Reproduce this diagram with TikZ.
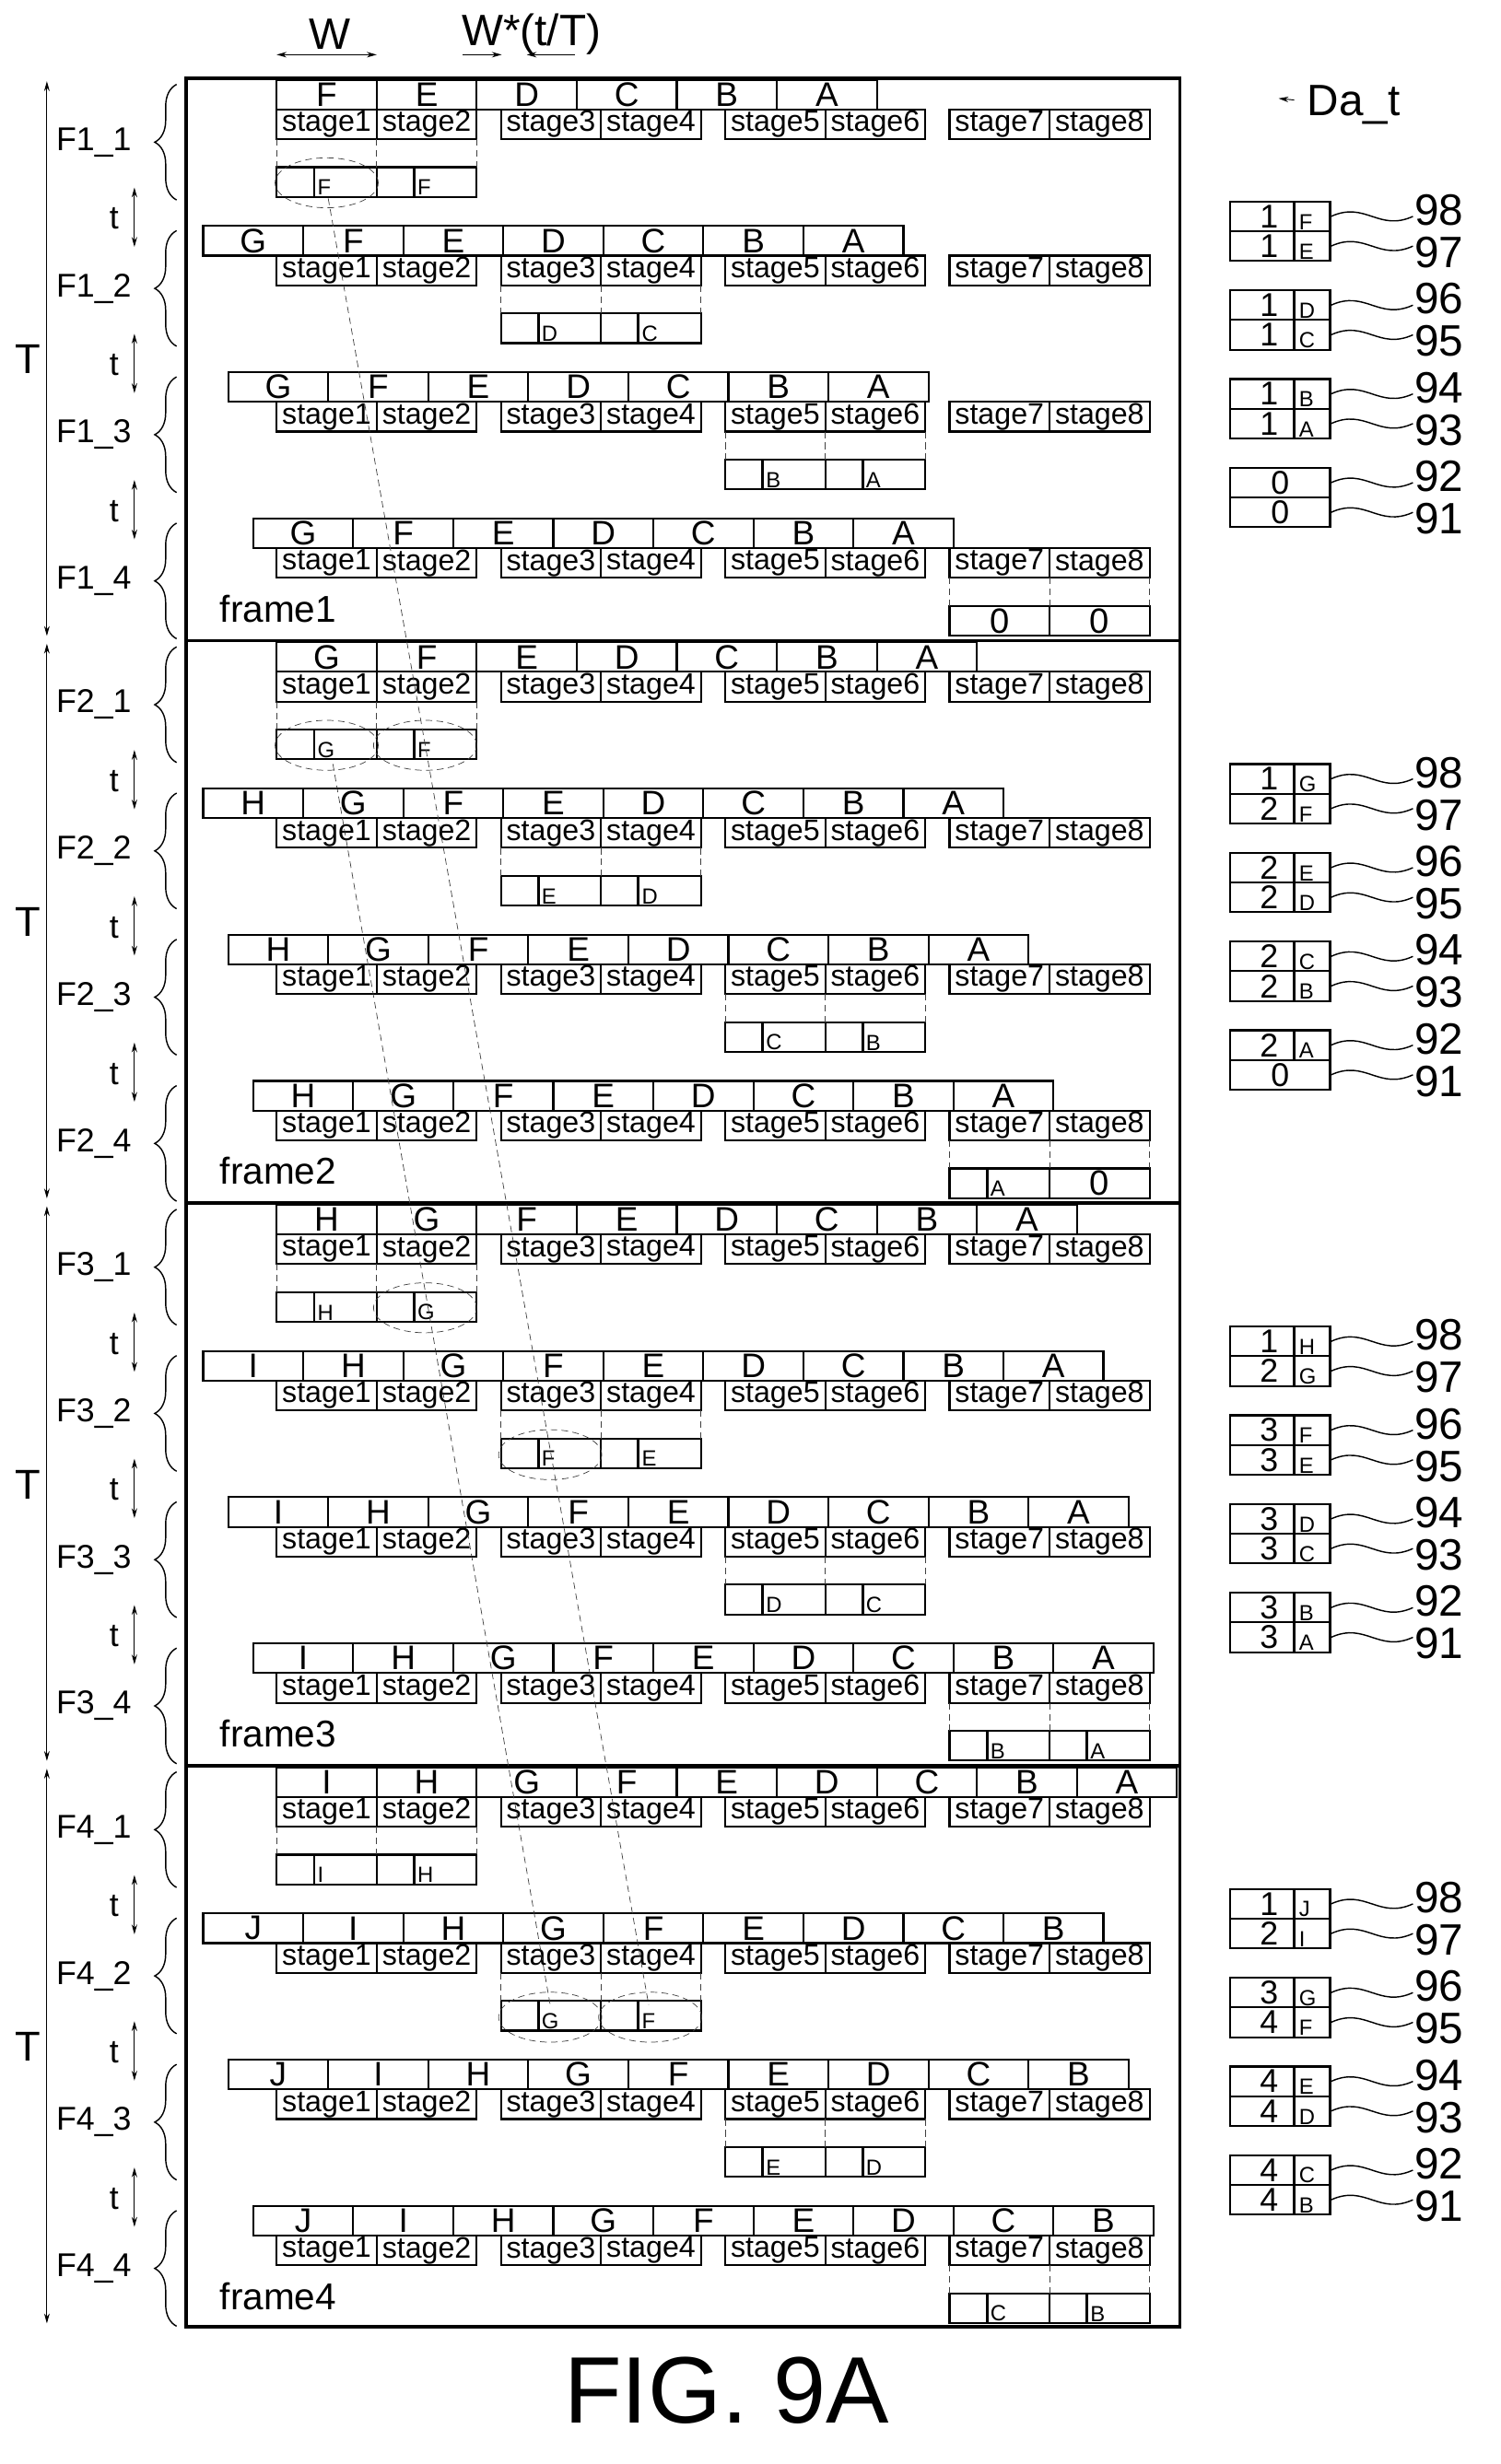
\documentclass[tikz,border=0pt]{standalone}
\usepackage{fontspec}
\setmainfont{Liberation Sans}
\usetikzlibrary{decorations.pathreplacing,arrows.meta}

\tikzset{
  stagebox/.style={draw, line width=1.8pt, minimum width=3.2cm, minimum height=0.95cm,
    inner sep=0pt, font=\fontsize{27}{27}\selectfont},
  lettercell/.style={draw, line width=1.8pt, minimum width=3.2cm, minimum height=0.95cm,
    inner sep=0pt, font=\fontsize{31}{31}\selectfont},
  darow/.style={draw, line width=1.8pt, minimum width=3.2cm, minimum height=0.95cm, inner sep=0pt},
  guide/.style={dash pattern=on 6pt off 4pt, line width=0.6pt, black!75},
  fbrace/.style={decorate, decoration={brace, mirror, amplitude=0.7cm}, line width=1.2pt},
  flab/.style={font=\fontsize{30}{30}\selectfont, inner sep=0pt},
  reflab/.style={font=\fontsize{40}{40}\selectfont, inner sep=0pt, anchor=west},
  dim/.style={{Stealth[length=9pt,width=5pt]}-{Stealth[length=9pt,width=5pt]}, line width=0.8pt},
  onedim/.style={-{Stealth[length=9pt,width=5pt]}, line width=0.8pt}
}
\def\bigzero{0}
\def\nodash{-}
% one cell of a data box below a stage pair
\newcommand{\datcell}[3]{%
  \edef\tmpc{#3}%
  \draw[line width=1.8pt] (#1,#2) rectangle ++(64,19);
  \ifx\tmpc\bigzero
    \node[font=\fontsize{32}{32}\selectfont, inner sep=0pt] at (#1+32,#2+9.5) {0};
  \else
    \draw[line width=2.4pt] (#1+24,#2) -- ++(0,19);
    \node[font=\fontsize{20}{20}\selectfont, inner sep=0pt, anchor=south west] at (#1+26,#2+18) {#3};
  \fi}

\begin{document}
\begin{tikzpicture}[x=0.05cm, y=-0.05cm]
\useasboundingbox (0,0) rectangle (960,1577);

% outer frame and frame dividers
\draw[line width=3pt] (119,50) rectangle (755,1489);
\foreach \f in {1,2,3}
  \draw[line width=3pt] (119,50+360*\f) -- (755,50+360*\f);

% stage rows
\foreach \f in {0,...,3}{
  \foreach \s in {0,...,3}{
    \pgfmathsetmacro{\ys}{70+360*\f+93.6*\s}
    \foreach \i [evaluate=\i as \xs using {177+143.5*int((\i-1)/2)+64*mod(\i-1,2)}] in {1,...,8}
      \node[stagebox] (st\f\s\i) at (\xs+32,\ys+9.5) {\makebox[0pt]{stage\i}};
  }
}

% letter rows
\foreach \f/\s/\x/\lst in {
    0/0/177/{F,E,D,C,B,A}, 0/1/130/{G,F,E,D,C,B,A}, 0/2/146/{G,F,E,D,C,B,A}, 0/3/162/{G,F,E,D,C,B,A},
    1/0/177/{G,F,E,D,C,B,A}, 1/1/130/{H,G,F,E,D,C,B,A}, 1/2/146/{H,G,F,E,D,C,B,A}, 1/3/162/{H,G,F,E,D,C,B,A},
    2/0/177/{H,G,F,E,D,C,B,A}, 2/1/130/{I,H,G,F,E,D,C,B,A}, 2/2/146/{I,H,G,F,E,D,C,B,A}, 2/3/162/{I,H,G,F,E,D,C,B,A},
    3/0/177/{I,H,G,F,E,D,C,B,A}, 3/1/130/{J,I,H,G,F,E,D,C,B}, 3/2/146/{J,I,H,G,F,E,D,C,B}, 3/3/162/{J,I,H,G,F,E,D,C,B}}{
  \pgfmathsetmacro{\yl}{51+360*\f+93.6*\s}
  \foreach \L [count=\n from 0] in \lst
    \node[lettercell] (l\f\s\n) at (\x+64*\n+32,\yl+9.5) {\L};
}

% data boxes under the stage pairs
\foreach \f/\s/\a/\b in {0/0/F/F, 0/1/D/C, 0/2/B/A, 0/3/0/0,
    1/0/G/F, 1/1/E/D, 1/2/C/B, 1/3/A/0, 2/0/H/G, 2/1/F/E, 2/2/D/C, 2/3/B/A,
    3/0/I/H, 3/1/G/F, 3/2/E/D, 3/3/C/B}{
  \pgfmathsetmacro{\yd}{107+360*\f+93.6*\s}
  \pgfmathsetmacro{\xd}{177+143.5*\s}
  \datcell{\xd}{\yd}{\a}
  \datcell{\xd+64}{\yd}{\b}
  \foreach \e in {0,64,128}
    \draw[guide] (\xd+\e,\yd-18) -- (\xd+\e,\yd);
}

% tracked items
\foreach \cx/\cy in {209/117, 209/477, 272/477, 272/837, 352/931, 352/1291, 416/1291}
  \draw[guide] (\cx,\cy) ellipse [x radius=1.65cm, y radius=0.8cm];
\coordinate (fA) at (210,127);
\coordinate (fB) at (415,1283);
\coordinate (gA) at (213,489);
\coordinate (gB) at (352,1283);
\draw[guide] (fA) -- (fB);
\draw[guide] (gA) -- (gB);

% braces, t and T on the left
\foreach \f in {0,...,3}{
  \pgfmathtruncatemacro{\fno}{\f+1}
  \foreach \s in {0,...,3}{
    \pgfmathsetmacro{\yb}{54+360*\f+93.6*\s}
    \pgfmathtruncatemacro{\sno}{\s+1}
    \draw[fbrace] (113,\yb) -- (113,\yb+74);
    \node[flab] (lab\f\s) at (60,\yb+37) {F\fno\_\sno};
    \ifnum\s<3
      \draw[dim] (86,\yb+66) -- (86,\yb+104);
      \node[flab] (tl\f\s) at (73,\yb+86) {t};
    \fi
  }
  \draw[dim] (30,52+360*\f) -- (30,407+360*\f);
  \node[font=\fontsize{38}{38}\selectfont] (T\f) at (18,230+360*\f) {T};
  \node[font=\fontsize{34}{34}\selectfont, inner sep=0pt, anchor=base] (fr\f) at (178,398+360*\f) {frame\fno};
}

% Da_t boxes on the right
\foreach \f/\lst in {0/{1/F,1/E,1/D,1/C,1/B,1/A,0/-,0/-},
    1/{1/G,2/F,2/E,2/D,2/C,2/B,2/A,0/-},
    2/{1/H,2/G,3/F,3/E,3/D,3/C,3/B,3/A},
    3/{1/J,2/I,3/G,4/F,4/E,4/D,4/C,4/B}}{
  \foreach \nm/\lt [count=\r from 0] in \lst{
    \pgfmathtruncatemacro{\p}{int(\r/2)}
    \pgfmathsetmacro{\yr}{129+360*\f+56.8*\p+19*mod(\r,2)}
    \pgfmathtruncatemacro{\lab}{98-\r}
    \pgfmathsetmacro{\ly}{\yr+9.5+8*mod(\r,2)-4}
    \node[darow] (d\f\r) at (819,\yr+9.5) {};
    \edef\tmpl{\lt}
    \ifx\tmpl\nodash
      \node[font=\fontsize{30}{30}\selectfont, inner sep=0pt] at (d\f\r) {0};
    \else
      \node[font=\fontsize{30}{30}\selectfont, inner sep=0pt] at (812,\yr+9.5) {\nm};
      \draw[line width=2.4pt] (828,\yr) -- ++(0,19);
      \node[font=\fontsize{20}{20}\selectfont, inner sep=0pt, anchor=south west] at (831,\yr+18) {\lt};
    \fi
    \coordinate (w\f\r) at (904,\yr+9.5);
    \node[reflab] (n\f\r) at (905,\ly) {\lab};
    \draw[line width=1.2pt] (d\f\r.east) .. controls +(22,-10) and +(-22,10) .. (w\f\r);
  }
}

% top dimensions
\node[font=\fontsize{40}{40}\selectfont] (wlab) at (211,22) {W};
\draw[dim] (177,35) -- (241,35);
\node[font=\fontsize{40}{40}\selectfont] (wtlab) at (340,22) {W*(t/T)};
\draw[onedim] (296,35) -- (321,35);
\draw[onedim] (368,35) -- (337,35);
\node[font=\fontsize{40}{40}\selectfont, inner sep=0pt] (dat) at (866,67) {Da\_t};
\draw[onedim] (828,64) -- (818,63);

\node[font=\fontsize{86}{86}\selectfont] (fig) at (465,1530) {FIG. 9A};
\end{tikzpicture}
\end{document}
